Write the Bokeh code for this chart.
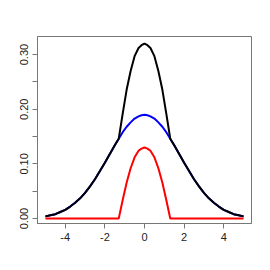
from bokeh.plotting import figure
from bokeh.models import Range1d, FixedTicker
from bokeh.embed import file_html
from bokeh.resources import INLINE

# x positions
x = [-5.0, -4.75, -4.5, -4.25, -4.0, -3.75, -3.5, -3.25, -3.0, -2.75, -2.5, -2.25,
     -2.0, -1.75, -1.5, -1.3, -1.1, -0.9, -0.7, -0.5, -0.3, -0.15, 0.0,
     0.15, 0.3, 0.5, 0.7, 0.9, 1.1, 1.3, 1.5, 1.75, 2.0, 2.25, 2.5, 2.75,
     3.0, 3.25, 3.5, 3.75, 4.0, 4.25, 4.5, 4.75, 5.0]

blue = [0.004, 0.006, 0.008, 0.012, 0.016, 0.022, 0.029, 0.037, 0.047, 0.059, 0.072, 0.087,
        0.102, 0.118, 0.134, 0.146, 0.158, 0.168, 0.176, 0.183, 0.187, 0.189, 0.190,
        0.189, 0.187, 0.183, 0.176, 0.168, 0.158, 0.146, 0.134, 0.118, 0.102, 0.087, 0.072, 0.059,
        0.047, 0.037, 0.029, 0.022, 0.016, 0.012, 0.008, 0.006, 0.004]

red = [0.0, 0.0, 0.0, 0.0, 0.0, 0.0, 0.0, 0.0, 0.0, 0.0, 0.0, 0.0,
       0.0, 0.0, 0.0, 0.0, 0.034, 0.066, 0.092, 0.112, 0.124, 0.128, 0.130,
       0.128, 0.124, 0.112, 0.092, 0.066, 0.034, 0.0, 0.0, 0.0, 0.0, 0.0, 0.0, 0.0,
       0.0, 0.0, 0.0, 0.0, 0.0, 0.0, 0.0, 0.0, 0.0]

black = [0.004, 0.006, 0.008, 0.012, 0.016, 0.022, 0.029, 0.037, 0.047, 0.059, 0.072, 0.087,
         0.102, 0.118, 0.134, 0.146, 0.192, 0.236, 0.270, 0.297, 0.312, 0.317, 0.320,
         0.317, 0.312, 0.297, 0.270, 0.236, 0.192, 0.146, 0.134, 0.118, 0.102, 0.087, 0.072, 0.059,
         0.047, 0.037, 0.029, 0.022, 0.016, 0.012, 0.008, 0.006, 0.004]

x_ticks = [-4, -2, 0, 2, 4]
x_labels = {-4: "-4", -2: "-2", 0: "0", 2: "2", 4: "4"}
y_ticks = [0.0, 0.05, 0.1, 0.15, 0.2, 0.25, 0.3]
y_labels = {0.0: "0.00", 0.05: "", 0.1: "0.10", 0.15: "", 0.2: "0.20", 0.25: "", 0.3: "0.30"}

p = figure(width=262, height=262, output_backend="svg", toolbar_location=None,
           x_range=Range1d(-5.4, 5.4), y_range=Range1d(-0.009, 0.333),
           min_border_left=37, min_border_right=11, min_border_top=36, min_border_bottom=39)
p.background_fill_color = "white"
p.border_fill_color = "white"
p.outline_line_color = "#777777"
p.outline_line_width = 1
p.grid.visible = False

p.line(x, red, line_color="#FF0000", line_width=2)
p.line(x, blue, line_color="#0000FF", line_width=2)
p.line(x, black, line_color="black", line_width=2)

for ax in (p.xaxis[0], p.yaxis[0]):
    ax.axis_line_color = "#777777"
    ax.major_tick_line_color = "#777777"
    ax.minor_tick_line_color = None
    ax.major_tick_out = 5
    ax.major_tick_in = 0
    ax.major_label_text_font = "Liberation Sans"
    ax.major_label_text_font_size = "11px"
    ax.major_label_text_color = "#222222"
    ax.major_label_standoff = 4

p.xaxis[0].ticker = FixedTicker(ticks=x_ticks)
p.xaxis[0].major_label_overrides = x_labels
p.yaxis[0].ticker = FixedTicker(ticks=y_ticks)
p.yaxis[0].major_label_overrides = y_labels
p.yaxis[0].major_label_orientation = "vertical"

open("out.html", "w").write(file_html(p, INLINE))
